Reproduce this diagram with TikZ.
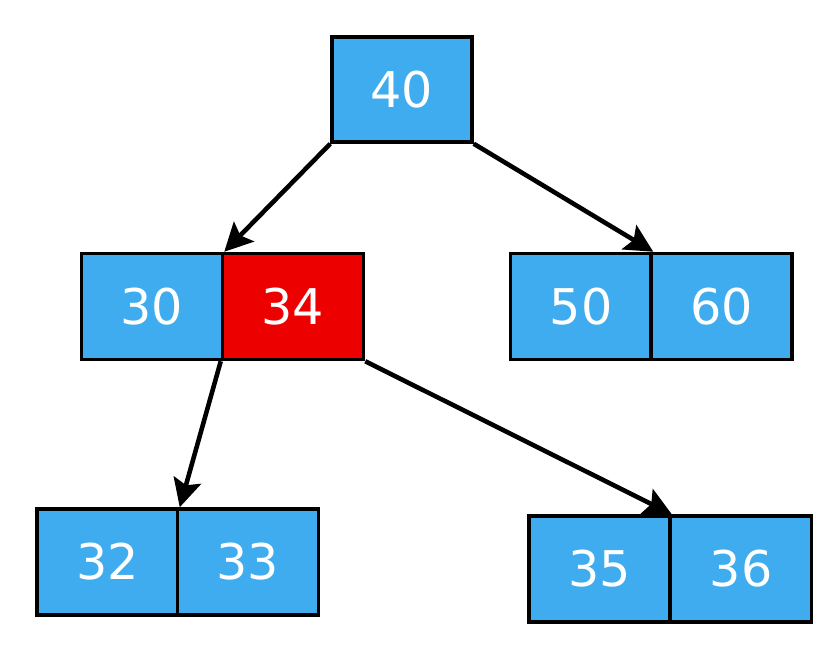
\documentclass[tikz,border=0pt]{standalone}
\usepackage{fontspec}
\setmainfont{DejaVu Sans}
\usetikzlibrary{arrows.meta}

\definecolor{keyblue}{RGB}{62,172,238}
\definecolor{keyred}{RGB}{236,0,0}

\tikzset{
  key/.style={draw=black, line width=1pt, fill=keyblue, text=white,
    minimum width=1.41cm, minimum height=1.06cm, inner sep=0pt,
    font=\fontsize{14}{16}\selectfont},
  hot/.style={key, fill=keyred},
  link/.style={line width=1.3pt, -{Stealth[length=8pt,width=8pt,inset=1.5pt]}}
}

\begin{document}
\begin{tikzpicture}

\useasboundingbox (0,0) rectangle (8.32,6.44);

% root
\node[key, minimum width=1.40cm, minimum height=1.05cm] (k40) at (4.02,5.545) {40};

% second level
\node[key]  (k30) at (1.52,3.375) {30};
\node[hot]  (k34) at (2.93,3.375) {34};
\node[key]  (k50) at (5.81,3.375) {50};
\node[key]  (k60) at (7.215,3.375) {60};

% leaves
\node[key] (k32) at (1.075,0.82) {32};
\node[key] (k33) at (2.48,0.82) {33};
\node[key] (k35) at (5.995,0.75) {35};
\node[key] (k36) at (7.41,0.75) {36};

\draw[link] (k40.south west) -- (k30.north east);
\draw[link] (k40.south east) -- (k50.north east);
\draw[link] (k34.south west) -- (k32.north east);
\draw[link] (k34.south east) -- (k35.north east);

\end{tikzpicture}
\end{document}
